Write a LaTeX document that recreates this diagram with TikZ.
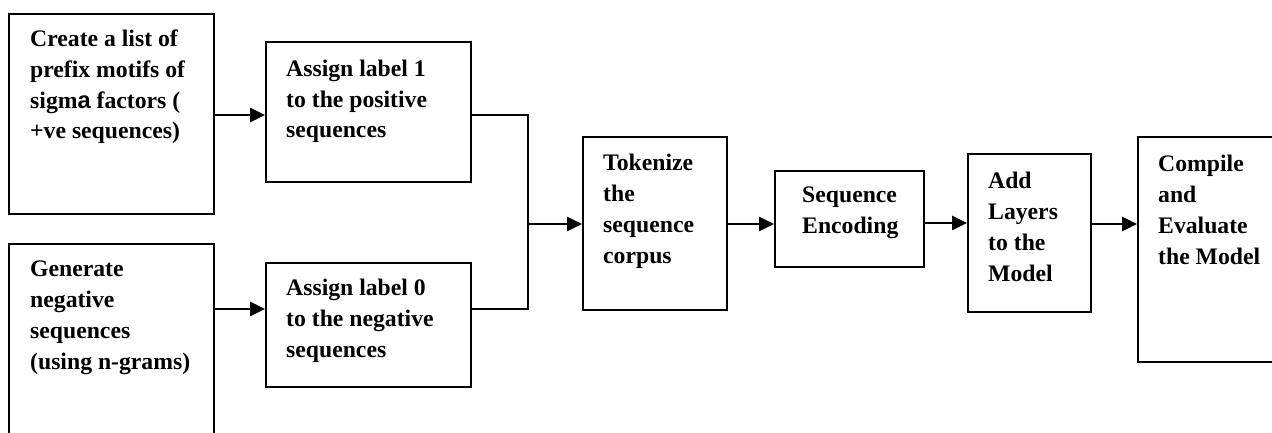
\documentclass[tikz,border=0pt]{standalone}
\usepackage{fontspec}
\setmainfont{Liberation Serif}
\setsansfont{Liberation Sans}
\usetikzlibrary{arrows.meta,calc}
\tikzset{
  stepbox/.style={draw=black, line width=2.2pt, inner sep=0pt, anchor=north west},
  % anchored at the baseline of the last text line
  steptext/.style={anchor=base west, inner sep=0pt, align=left,
    font=\fontsize{23.7}{30.8}\selectfont\bfseries},
  flow/.style={line width=2.8pt, -{Triangle[length=15pt,width=14pt]}},
  link/.style={line width=2.4pt}
}
\begin{document}
\begin{tikzpicture}[x=1pt,y=-1pt]
\clip (0,0) rectangle (1272,433);
\useasboundingbox (0,0) rectangle (1272,433);
\fill[white] (0,0) rectangle (1272,433);

% process boxes (corner, size in px)
\node[stepbox, minimum width=205, minimum height=200] (A) at (8,13) {};
\node[stepbox, minimum width=205, minimum height=140] (B) at (265,41) {};
\node[stepbox, minimum width=205, minimum height=230] (C) at (8,243) {};
\node[stepbox, minimum width=205, minimum height=124] (D) at (265,262) {};
\node[stepbox, minimum width=144, minimum height=173] (T) at (582,136) {};
\node[stepbox, minimum width=149, minimum height=96]  (S) at (774,170) {};
\node[stepbox, minimum width=123, minimum height=158] (L) at (967,153) {};
\node[stepbox, minimum width=150, minimum height=225] (M) at (1137,136) {};

% box texts
\node[steptext] (tA) at (30,139) {Create a list of\\prefix motifs of\\sigm{\sffamily a} factors (\\+ve sequences)};
\node[steptext] (tB) at (286,138) {Assign label 1\\to the positive\\sequences};
\node[steptext] (tC) at (30,369) {Generate\\negative\\sequences\\(using n-grams)};
\node[steptext] (tD) at (286,357) {Assign label 0\\to the negative\\sequences};
\node[steptext] (tT) at (603,263) {Tokenize\\the\\sequence\\corpus};
\node[steptext] (tS) at (802,233) {Sequence\\Encoding};
\node[steptext] (tL) at (988,281) {Add\\Layers\\to the\\Model};
\node[steptext] (tM) at (1158,264) {Compile\\and\\Evaluate\\the Model};

% junction where the two labelled branches merge
\coordinate (J1) at (528,115);
\coordinate (J2) at (528,309);
\coordinate (J3) at (528,224);
\coordinate (J4) at (0,223);

\draw[flow] (A.east |- J1) -- (B.west |- J1);
\draw[flow] (C.east |- J2) -- (D.west |- J2);
\draw[link] (B.east |- J1) -- (J1) -- (J2) -- (D.east |- J2);
\draw[flow] (J3) -- (T.west |- J3);
\draw[flow] (T.east |- J3) -- (S.west |- J3);
\draw[flow] (S.east |- J4) -- (L.west |- J4);
\draw[flow] (L.east |- J3) -- (M.west |- J3);
\end{tikzpicture}
\end{document}
